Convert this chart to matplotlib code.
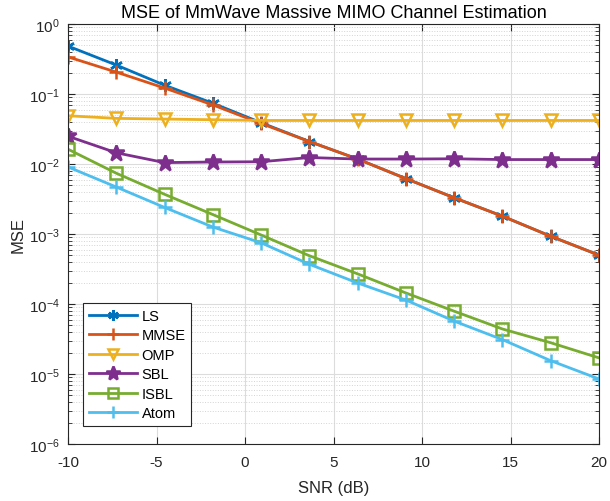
import matplotlib
matplotlib.use('Agg')
import matplotlib.pyplot as plt
import numpy as np
from matplotlib.ticker import LogLocator, NullFormatter

plt.rcParams['font.family'] = ['Liberation Sans', 'DejaVu Sans']

snr = np.linspace(-10, 20, 12)

mseLS = [0.485, 0.26, 0.134, 0.074, 0.039, 0.021, 0.0118, 0.0062, 0.0033, 0.0018, 0.00093, 0.0005]
mseMMSE = [0.34, 0.206, 0.122, 0.07, 0.038, 0.021, 0.0118, 0.0062, 0.0033, 0.0018, 0.00093, 0.0005]
mseOMP = [0.049, 0.045, 0.044, 0.043, 0.042, 0.042, 0.042, 0.042, 0.042, 0.042, 0.042, 0.042]
mseSBL = [0.025, 0.0145, 0.0105, 0.0107, 0.0108, 0.0124, 0.0118, 0.0118, 0.0119, 0.0116, 0.0116, 0.0116]
mseISBL = [0.0163, 0.0074, 0.0037, 0.0019, 0.00097, 0.00049, 0.00027, 0.000144, 7.9e-5, 4.4e-5, 2.8e-5, 1.7e-5]
mseAtom = [0.0091, 0.0047, 0.0024, 0.00126, 0.00075, 0.00037, 0.0002, 0.000114, 5.7e-5, 3.1e-5, 1.55e-5, 8.5e-6]

labels = ['LS', 'MMSE', 'OMP', 'SBL', 'ISBL', 'Atom']
colors = ['#0072BD', '#D95319', '#EDB120', '#7E2F8E', '#77AC30', '#4DBEEE']
markers = [(6, 2, 0), '+', 'v', '*', 's', '+']
msizes = [9, 10, 9, 12, 8, 10]
series = [mseLS, mseMMSE, mseOMP, mseSBL, mseISBL, mseAtom]

fig = plt.figure(figsize=(6.1, 5.02), dpi=100)
ax = fig.add_axes([0.1115, 0.1135, 0.8705, 0.8365])

for y, lab, c, m, ms in zip(series, labels, colors, markers, msizes):
    mfc = 'none' if m in ('v', 's') else c
    ax.semilogy(snr, y, color=c, marker=m, markersize=ms, linewidth=2,
                markerfacecolor=mfc, markeredgewidth=1.8, label=lab)

ax.set_xlim(-10, 20)
ax.set_ylim(1e-6, 1)
ax.set_xticks([-10, -5, 0, 5, 10, 15, 20])
ax.set_xticklabels(['-10', '-5', '0', '5', '10', '15', '20'])
ax.yaxis.set_major_locator(LogLocator(base=10, numticks=10))
ax.yaxis.set_minor_locator(LogLocator(base=10, subs=np.arange(2, 10), numticks=20))
ax.yaxis.set_minor_formatter(NullFormatter())

ax.grid(True, which='major', color='#dcdcdc', linewidth=0.8, linestyle='-')
ax.grid(True, which='minor', axis='y', color='#d4d4d4', linewidth=0.7, linestyle=':')
ax.set_axisbelow(True)

ax.tick_params(which='both', direction='in', top=True, right=True, colors='#262626', labelsize=11)
ax.tick_params(which='major', length=5)
ax.tick_params(which='minor', length=3)
ax.tick_params(axis='x', pad=8)
ax.tick_params(axis='y', pad=6)
for s in ax.spines.values():
    s.set_color('#262626')
    s.set_linewidth(0.8)

ax.set_xlabel('SNR (dB)', fontsize=12, color='#262626', labelpad=8)
ax.set_ylabel('MSE', fontsize=12, color='#262626', labelpad=2)
ax.set_title('MSE of MmWave Massive MIMO Channel Estimation', fontsize=13, color='black', pad=5)

leg = ax.legend(loc='lower left', fontsize=10.5, handlelength=3.3, borderpad=0.4,
                labelspacing=0.38, handletextpad=0.3, fancybox=False, markerscale=0.85,
                bbox_to_anchor=(0.015, 0.025))
leg.get_frame().set_edgecolor('#262626')
leg.get_frame().set_linewidth(0.8)
leg.get_frame().set_alpha(1)

fig.savefig('out.png', dpi=100)
